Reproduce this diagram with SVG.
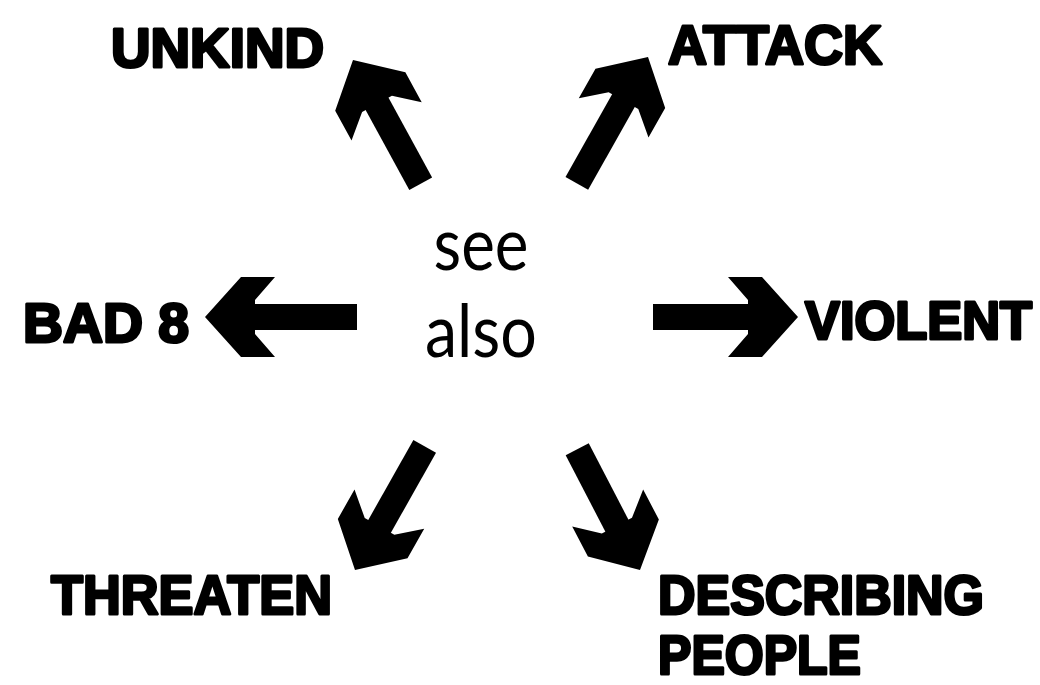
<svg xmlns="http://www.w3.org/2000/svg" xmlns:xlink="http://www.w3.org/1999/xlink" width="1040" height="685" viewBox="0 0 1040 685">
<style>
.lbl{font-family:"Liberation Sans",Arial,sans-serif;font-weight:bold;font-size:56px;fill:#000;stroke:#000;stroke-width:3;stroke-linejoin:round}
.ctr{font-family:Lato,"Open Sans",sans-serif;font-size:74px;fill:#000;text-anchor:middle}
.arr{fill:#000}
</style>
<defs>
<path id="head" d="M0,0 L-36,-40 L-70,-40 L-50,-17 L-50,17 L-70,40 L-36,40 Z"/>
</defs>
<rect width="1040" height="685" fill="#fff"/>
<g id="center">
<text class="ctr" x="481" y="270" textLength="95" lengthAdjust="spacingAndGlyphs">see</text>
<text class="ctr" x="481" y="357" textLength="112" lengthAdjust="spacingAndGlyphs">also</text>
</g>
<g id="connectors" class="arr">
<g transform="translate(353,60) rotate(-118.7)"><use xlink:href="#head"/><rect x="-141" y="-13" width="93" height="26"/></g>
<g transform="translate(648,57) rotate(-60.6)"><use xlink:href="#head"/><rect x="-145" y="-13" width="97" height="26"/></g>
<g transform="translate(205,317) rotate(180)"><use xlink:href="#head"/><rect x="-152" y="-13" width="104" height="26"/></g>
<g transform="translate(798,317)"><use xlink:href="#head"/><rect x="-145" y="-13" width="97" height="26"/></g>
<g transform="translate(355,570) rotate(119.4)"><use xlink:href="#head"/><rect x="-142" y="-13" width="94" height="26"/></g>
<g transform="translate(640,570) rotate(62.5)"><use xlink:href="#head"/><rect x="-136" y="-13" width="88" height="26"/></g>
</g>
<g id="unkind"><text class="lbl" x="111" y="67" textLength="213" lengthAdjust="spacingAndGlyphs">UNKIND</text></g>
<g id="attack"><text class="lbl" x="668" y="64" textLength="214" lengthAdjust="spacingAndGlyphs">ATTACK</text></g>
<g id="bad8"><text class="lbl" x="23" y="342" textLength="166" lengthAdjust="spacingAndGlyphs">BAD 8</text></g>
<g id="violent"><text class="lbl" x="805" y="339" textLength="227" lengthAdjust="spacingAndGlyphs" style="font-size:53px">VIOLENT</text></g>
<g id="threaten"><text class="lbl" x="51" y="614" textLength="281" lengthAdjust="spacingAndGlyphs">THREATEN</text></g>
<g id="describing">
<text class="lbl" x="658" y="614" textLength="326" lengthAdjust="spacingAndGlyphs">DESCRIBING</text>
<text class="lbl" x="658" y="674" textLength="203" lengthAdjust="spacingAndGlyphs">PEOPLE</text>
</g>
</svg>
